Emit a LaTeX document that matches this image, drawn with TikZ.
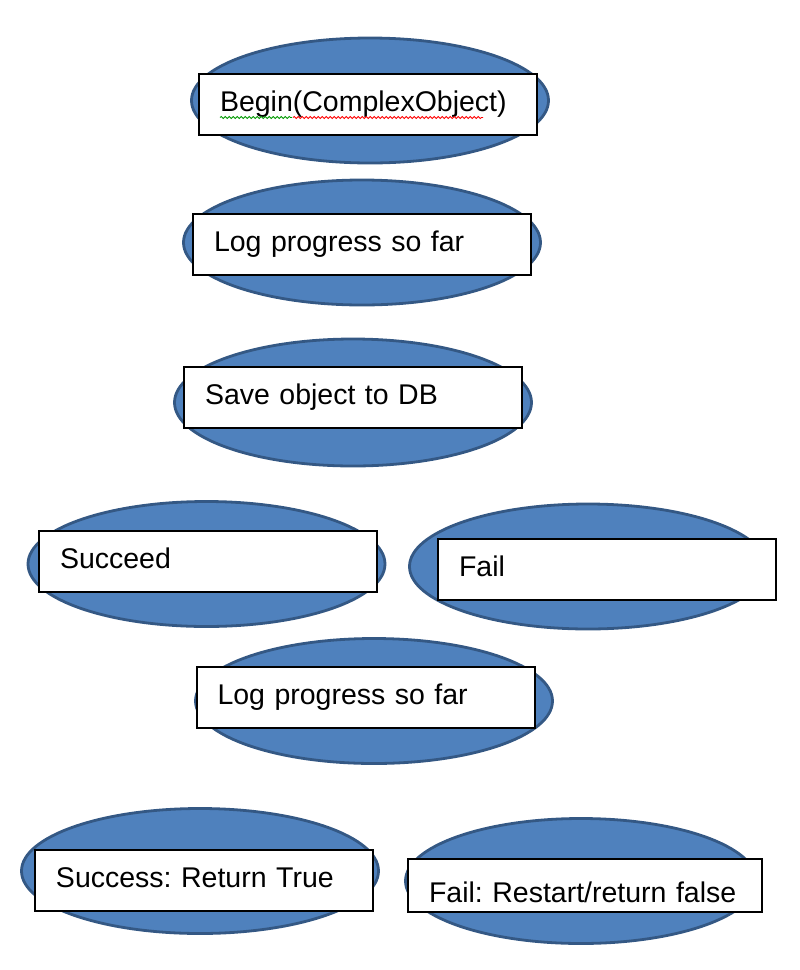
\documentclass[tikz,border=0pt]{standalone}
\usepackage{fontspec}
\setmainfont{Liberation Sans}
\usepackage{xcolor}
\usepackage{tikz}
\usetikzlibrary{shapes,calc,decorations.pathmorphing}

\definecolor{ovalblue}{RGB}{79,129,189}
\definecolor{ovalline}{RGB}{52,88,132}

\begin{document}
\begin{tikzpicture}[
  x=1pt, y=-1pt,
  oval/.style={ellipse, draw=ovalline, fill=ovalblue, line width=2.8pt, minimum width=357pt, minimum height=125pt, inner sep=0pt},
  textbox/.style={rectangle, draw=black, fill=white, line width=2pt, text width=296pt, inner xsep=21pt, minimum height=61pt, align=left, text height=20pt, text depth=5.6pt, font=\fontsize{28.5}{34}\selectfont\frenchspacing},
  squiggle/.style={line width=0.8pt, decorate, decoration={snake, amplitude=1pt, segment length=4pt}}
]
  \useasboundingbox (0,0) rectangle (800,970);

  % ovals behind
  \node[oval] (o1) at (370,100.5) {};
  \node[oval] (o2) at (362,242.5) {};
  \node[oval, minimum height=127pt] (o3) at (353,402.5) {};
  \node[oval] (o4) at (206.5,564) {};
  \node[oval] (o5) at (588,566.5) {};
  \node[oval] (o6) at (374,701) {};
  \node[oval] (o7) at (200,871) {};
  \node[oval, minimum width=351pt] (o8) at (581,881) {};

  % text boxes on top
  \node[textbox] (b1) at (368,104.5) {Begin(ComplexObject)};
  \node[textbox] (b2) at (362,244.5) {Log progress so far};
  \node[textbox] (b3) at (353,397) {Save object to DB};
  \node[textbox] (b4) at (208,561) {Succeed};
  \node[textbox] (b5) at (607,569.5) {Fail};
  \node[textbox] (b6) at (365.5,697) {Log progress so far};
  \node[textbox] (b7) at (204,880.5) {Success: Return True};
  \node[textbox, text width=312pt, minimum height=53pt, text height=36pt, text depth=3pt] (b8) at (585,885.5) {Fail: Restart/return false};

  % spell check marks
  \draw[squiggle, green!60!black] ($(b1.west)+(22,13)$) -- ++(72,0);
  \draw[squiggle, red] ($(b1.west)+(95,13)$) -- ++(190,0);
\end{tikzpicture}
\end{document}
